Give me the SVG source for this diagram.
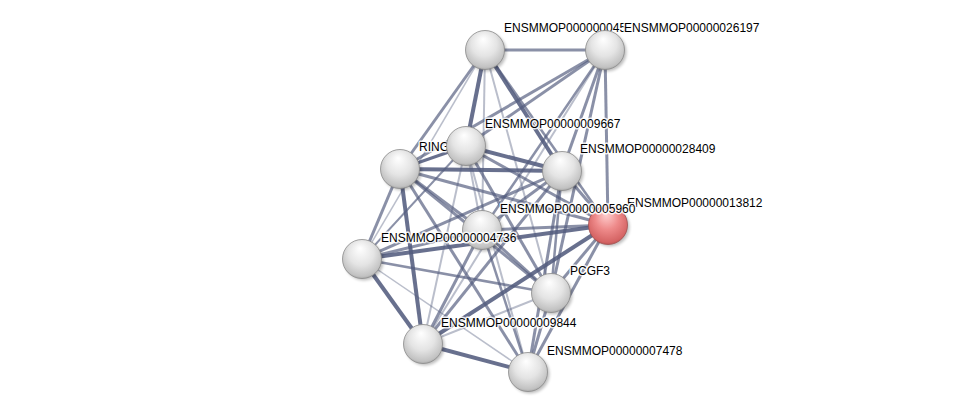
<svg xmlns="http://www.w3.org/2000/svg" width="975" height="417" viewBox="0 0 975 417">
<defs>
<radialGradient id="gw" cx="0.5" cy="0.42" r="0.6" fx="0.45" fy="0.22">
<stop offset="0" stop-color="#ffffff"/>
<stop offset="0.55" stop-color="#e4e4e4"/>
<stop offset="0.9" stop-color="#c2c2c2"/>
<stop offset="1" stop-color="#a4a4a4"/>
</radialGradient>
<radialGradient id="gr" cx="0.5" cy="0.42" r="0.6" fx="0.45" fy="0.22">
<stop offset="0" stop-color="#ffd0d0"/>
<stop offset="0.5" stop-color="#ee8a8a"/>
<stop offset="0.9" stop-color="#d56464"/>
<stop offset="1" stop-color="#b85050"/>
</radialGradient>
<filter id="sh" x="-50%" y="-50%" width="200%" height="200%"><feGaussianBlur stdDeviation="1.5"/></filter>
</defs>
<style>
.e{stroke:#535c7e;fill:none;stroke-linecap:butt}
.s{stroke-opacity:0.88}
.m{stroke-opacity:0.68}
.l{stroke-opacity:0.4}
.sd{fill:#000;opacity:0.25;filter:url(#sh)}
.n{fill:url(#gw);stroke:#8a8a8a;stroke-width:0.8}
.nr{fill:url(#gr);stroke:#a05050;stroke-width:0.8}
text{font-family:"Liberation Sans",Arial,sans-serif;font-size:12px;fill:#000;stroke:#fff;stroke-width:3px;stroke-opacity:0.85;paint-order:stroke;stroke-linejoin:round}
</style>
<rect width="975" height="417" fill="#fff"/>
<g id="edges">
<line class="e m" x1="485" y1="50" x2="605" y2="50" stroke-width="3"/>
<line class="e s" x1="485" y1="50" x2="466" y2="146" stroke-width="4"/>
<line class="e m" x1="485" y1="50" x2="400" y2="169" stroke-width="3"/>
<line class="e s" x1="485" y1="50" x2="562" y2="171" stroke-width="4"/>
<line class="e m" x1="485" y1="50" x2="608" y2="225" stroke-width="2.5"/>
<line class="e l" x1="485" y1="50" x2="482" y2="230" stroke-width="2"/>
<line class="e l" x1="485" y1="50" x2="362" y2="259" stroke-width="1.5"/>
<line class="e l" x1="485" y1="50" x2="551" y2="293" stroke-width="2"/>
<line class="e m" x1="605" y1="50" x2="466" y2="146" stroke-width="3"/>
<line class="e m" x1="605" y1="50" x2="400" y2="169" stroke-width="3"/>
<line class="e m" x1="605" y1="50" x2="562" y2="171" stroke-width="3"/>
<line class="e m" x1="605" y1="50" x2="608" y2="225" stroke-width="3"/>
<line class="e m" x1="605" y1="50" x2="482" y2="230" stroke-width="2.5"/>
<line class="e m" x1="605" y1="50" x2="551" y2="293" stroke-width="3"/>
<line class="e l" x1="605" y1="50" x2="423" y2="344" stroke-width="2"/>
<line class="e s" x1="466" y1="146" x2="400" y2="169" stroke-width="3"/>
<line class="e s" x1="466" y1="146" x2="562" y2="171" stroke-width="4"/>
<line class="e m" x1="466" y1="146" x2="608" y2="225" stroke-width="3"/>
<line class="e l" x1="466" y1="146" x2="482" y2="230" stroke-width="2"/>
<line class="e m" x1="466" y1="146" x2="362" y2="259" stroke-width="2"/>
<line class="e m" x1="466" y1="146" x2="551" y2="293" stroke-width="3"/>
<line class="e l" x1="466" y1="146" x2="423" y2="344" stroke-width="2"/>
<line class="e l" x1="466" y1="146" x2="528" y2="372" stroke-width="2"/>
<line class="e s" x1="400" y1="169" x2="562" y2="171" stroke-width="4"/>
<line class="e m" x1="400" y1="169" x2="608" y2="225" stroke-width="3"/>
<line class="e m" x1="400" y1="169" x2="482" y2="230" stroke-width="3"/>
<line class="e m" x1="400" y1="169" x2="362" y2="259" stroke-width="3"/>
<line class="e m" x1="400" y1="169" x2="551" y2="293" stroke-width="3"/>
<line class="e s" x1="400" y1="169" x2="423" y2="344" stroke-width="4"/>
<line class="e m" x1="400" y1="169" x2="528" y2="372" stroke-width="3"/>
<line class="e m" x1="562" y1="171" x2="608" y2="225" stroke-width="3"/>
<line class="e m" x1="562" y1="171" x2="482" y2="230" stroke-width="3"/>
<line class="e m" x1="562" y1="171" x2="362" y2="259" stroke-width="3"/>
<line class="e m" x1="562" y1="171" x2="551" y2="293" stroke-width="2.5"/>
<line class="e m" x1="562" y1="171" x2="423" y2="344" stroke-width="3"/>
<line class="e m" x1="562" y1="171" x2="528" y2="372" stroke-width="3"/>
<line class="e m" x1="608" y1="225" x2="482" y2="230" stroke-width="3"/>
<line class="e s" x1="608" y1="225" x2="362" y2="259" stroke-width="4"/>
<line class="e m" x1="608" y1="225" x2="551" y2="293" stroke-width="3"/>
<line class="e s" x1="608" y1="225" x2="423" y2="344" stroke-width="4"/>
<line class="e m" x1="608" y1="225" x2="528" y2="372" stroke-width="3"/>
<line class="e m" x1="482" y1="230" x2="362" y2="259" stroke-width="3"/>
<line class="e m" x1="482" y1="230" x2="551" y2="293" stroke-width="3"/>
<line class="e m" x1="482" y1="230" x2="423" y2="344" stroke-width="3"/>
<line class="e m" x1="482" y1="230" x2="528" y2="372" stroke-width="2.5"/>
<line class="e m" x1="362" y1="259" x2="551" y2="293" stroke-width="2.5"/>
<line class="e s" x1="362" y1="259" x2="423" y2="344" stroke-width="4"/>
<line class="e l" x1="362" y1="259" x2="528" y2="372" stroke-width="1.5"/>
<line class="e l" x1="551" y1="293" x2="423" y2="344" stroke-width="2"/>
<line class="e m" x1="551" y1="293" x2="528" y2="372" stroke-width="3"/>
<line class="e s" x1="423" y1="344" x2="528" y2="372" stroke-width="4"/>
</g>
<g id="nA"><circle class="sd" cx="487" cy="52" r="19.5"/><circle class="n" cx="485" cy="50" r="19.5"/><text x="504" y="32">ENSMMOP000000045</text></g>
<g id="nB"><circle class="sd" cx="607" cy="52" r="19.5"/><circle class="n" cx="605" cy="50" r="19.5"/><text x="624" y="32">ENSMMOP00000026197</text></g>
<g id="nR"><circle class="sd" cx="402" cy="171" r="19.5"/><circle class="n" cx="400" cy="169" r="19.5"/><text x="419" y="151">RING</text></g>
<g id="nC"><circle class="sd" cx="468" cy="148" r="19.5"/><circle class="n" cx="466" cy="146" r="19.5"/><text x="485" y="128">ENSMMOP00000009667</text></g>
<g id="nD"><circle class="sd" cx="564" cy="173" r="19.5"/><circle class="n" cx="562" cy="171" r="19.5"/><text x="580" y="153">ENSMMOP00000028409</text></g>
<g id="nE"><circle class="sd" cx="610" cy="227" r="19.5"/><circle class="nr" cx="608" cy="225" r="19.5"/><text x="627" y="207">ENSMMOP00000013812</text></g>
<g id="nF"><circle class="sd" cx="484" cy="232" r="19.5"/><circle class="n" cx="482" cy="230" r="19.5"/><text x="500" y="213">ENSMMOP00000005960</text></g>
<g id="nG"><circle class="sd" cx="364" cy="261" r="19.5"/><circle class="n" cx="362" cy="259" r="19.5"/><text x="381" y="242">ENSMMOP00000004736</text></g>
<g id="nH"><circle class="sd" cx="553" cy="295" r="19.5"/><circle class="n" cx="551" cy="293" r="19.5"/><text x="570" y="275">PCGF3</text></g>
<g id="nI"><circle class="sd" cx="425" cy="346" r="19.5"/><circle class="n" cx="423" cy="344" r="19.5"/><text x="441" y="327">ENSMMOP00000009844</text></g>
<g id="nJ"><circle class="sd" cx="530" cy="374" r="19.5"/><circle class="n" cx="528" cy="372" r="19.5"/><text x="547" y="355">ENSMMOP00000007478</text></g>
</svg>
